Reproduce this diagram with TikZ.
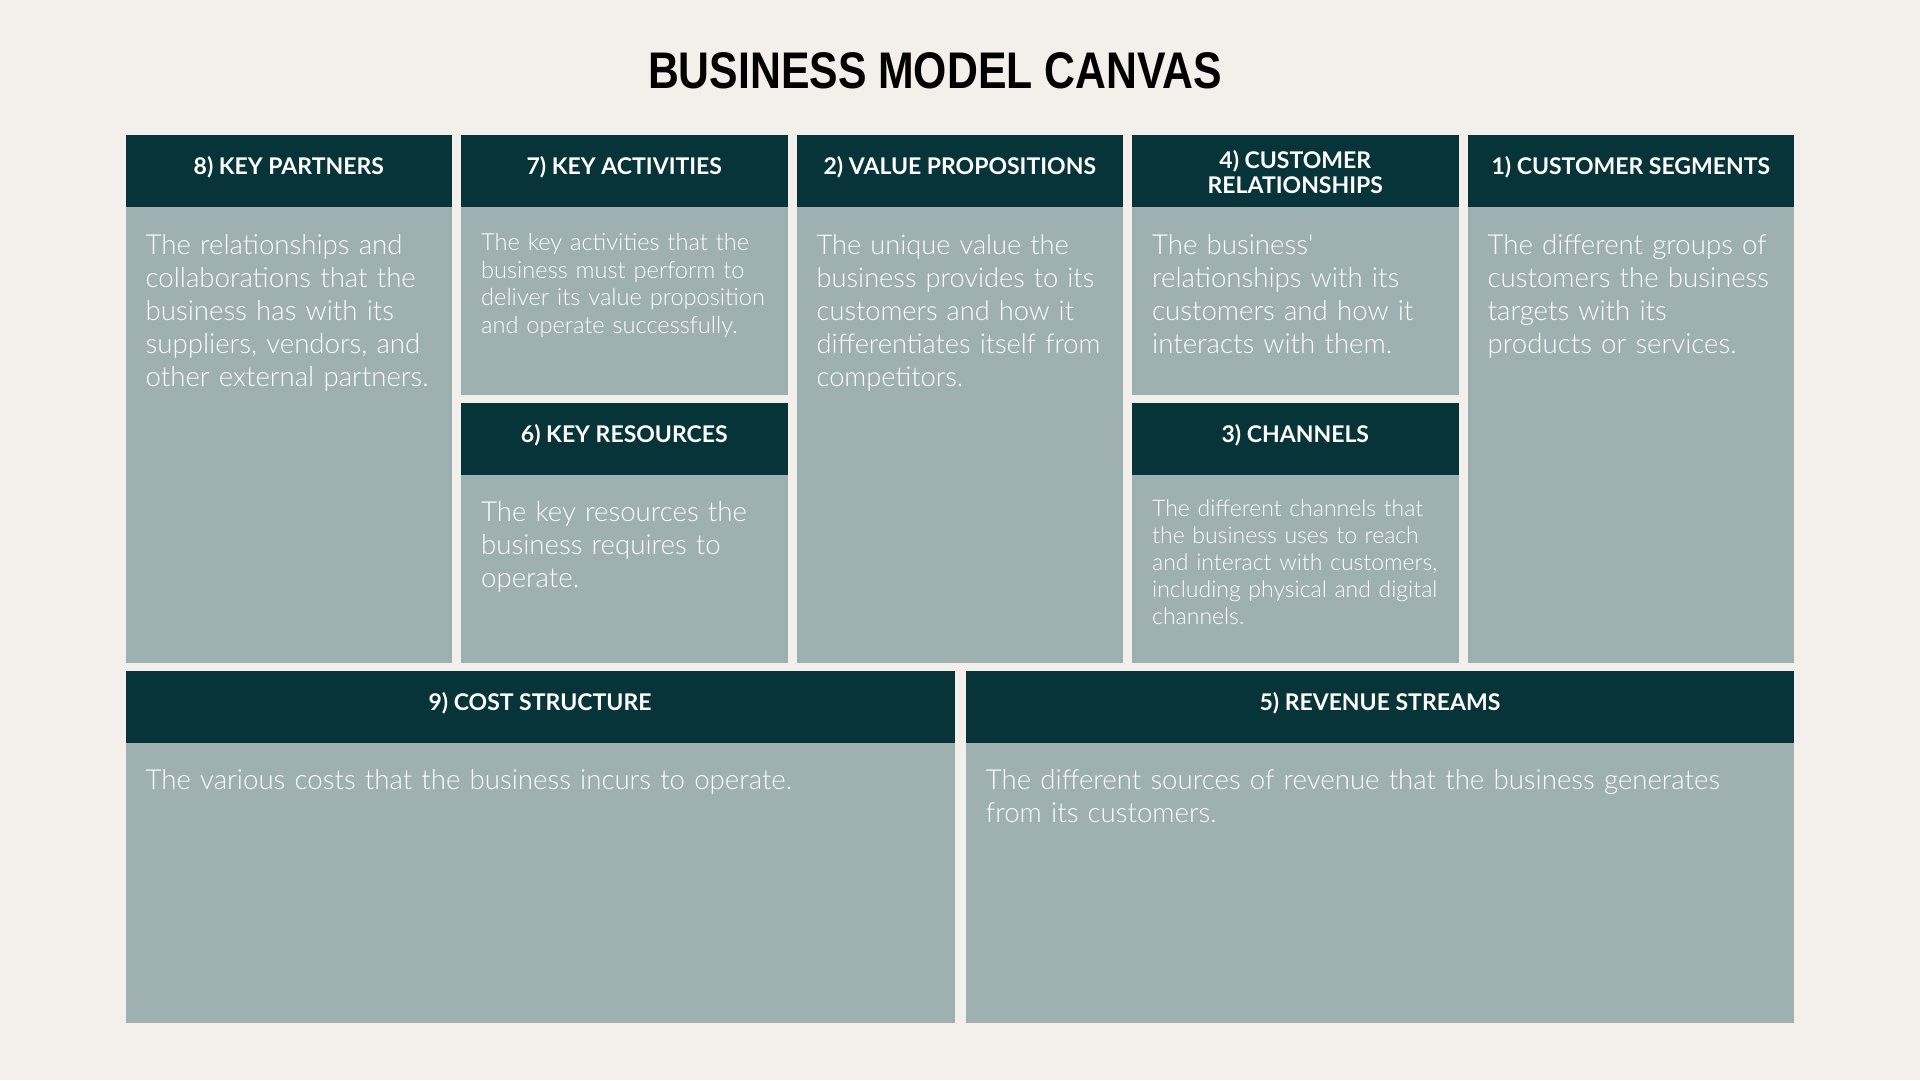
\documentclass[tikz,border=0pt]{standalone}
\usepackage{fontspec}
\usepackage{graphicx}
\setmainfont{Lato}
\newfontfamily\lightfont{Lato Light}
\newfontfamily\titlefont{Liberation Sans}
\definecolor{bg}{RGB}{243,240,236}
\definecolor{hdr}{RGB}{7,52,57}
\definecolor{bodyc}{RGB}{159,176,176}
\begin{document}
\begin{tikzpicture}[x=1pt,y=-1pt,
  hdrbox/.style={fill=hdr},
  bodybox/.style={fill=bodyc},
  hdrtext/.style={anchor=base,inner sep=0pt,text=white,font=\bfseries\fontsize{23}{25}\selectfont},
  bigtext/.style={anchor=north west,inner sep=0pt,text=white,align=left,text width=318pt,
    font=\lightfont\fontsize{27.6}{33}\selectfont,execute at begin node={\rule{0pt}{24pt}}},
  smalltext/.style={anchor=north west,inner sep=0pt,text=white,align=left,text width=318pt,
    font=\lightfont\fontsize{23.3}{27.5}\selectfont,execute at begin node={\rule{0pt}{20pt}}}]
\fill[bg] (0,0) rectangle (1920,1080);
\useasboundingbox (0,0) rectangle (1920,1080);

% title
\node[anchor=base,inner sep=0pt,font=\titlefont\bfseries\fontsize{51.5}{55}\selectfont] (title) at (935,88) {\scalebox{0.83}[1]{BUSINESS MODEL CANVAS}};

% column 1: key partners
\fill[hdrbox] (125.5,135) rectangle (452.1,206.5);
\fill[bodybox] (125.5,206.5) rectangle (452.1,662.7);
% column 2: key activities / key resources
\fill[hdrbox] (461,135) rectangle (787.6,206.5);
\fill[bodybox] (461,206.5) rectangle (787.6,395);
\fill[hdrbox] (461,403) rectangle (787.6,475);
\fill[bodybox] (461,475) rectangle (787.6,662.7);
% column 3: value propositions
\fill[hdrbox] (796.5,135) rectangle (1123.1,206.5);
\fill[bodybox] (796.5,206.5) rectangle (1123.1,662.7);
% column 4: customer relationships / channels
\fill[hdrbox] (1132,135) rectangle (1458.6,206.5);
\fill[bodybox] (1132,206.5) rectangle (1458.6,395);
\fill[hdrbox] (1132,403) rectangle (1458.6,475);
\fill[bodybox] (1132,475) rectangle (1458.6,662.7);
% column 5: customer segments
\fill[hdrbox] (1467.5,135) rectangle (1794.1,206.5);
\fill[bodybox] (1467.5,206.5) rectangle (1794.1,662.7);
% bottom row
\fill[hdrbox] (125.5,671) rectangle (954.5,742.7);
\fill[bodybox] (125.5,742.7) rectangle (954.5,1023.3);
\fill[hdrbox] (965.7,671) rectangle (1794.1,742.7);
\fill[bodybox] (965.7,742.7) rectangle (1794.1,1023.3);

% headers
\node[hdrtext] (hkp) at (288.8,174) {8) KEY PARTNERS};
\node[hdrtext] (hka) at (624.3,174) {7) KEY ACTIVITIES};
\node[hdrtext] (hvp) at (959.8,174) {2) VALUE PROPOSITIONS};
\node[hdrtext,anchor=north,align=center,execute at begin node={\rule{0pt}{17pt}}] (hcr) at (1295.3,150) {4) CUSTOMER\\RELATIONSHIPS};
\node[hdrtext] (hcs) at (1630.8,174) {1) CUSTOMER SEGMENTS};
\node[hdrtext] (hkr) at (624.3,442) {6) KEY RESOURCES};
\node[hdrtext] (hch) at (1295.3,442) {3) CHANNELS};
\node[hdrtext] (hcost) at (540,710) {9) COST STRUCTURE};
\node[hdrtext] (hrev) at (1379.9,710) {5) REVENUE STREAMS};

% body texts
\node[bigtext] (tkp) at (145.5,230) {The relationships and\\collaborations that the\\business has with its\\suppliers, vendors, and\\other external partners.};
\node[smalltext,font=\lightfont\fontsize{23.6}{27.8}\selectfont] (tka) at (481,230) {The key activities that the\\business must perform to\\deliver its value proposition\\and operate successfully.};
\node[bigtext] (tkr) at (481,497) {The key resources the\\business requires to\\operate.};
\node[bigtext,font=\lightfont\fontsize{27.2}{33}\selectfont] (tvp) at (816.5,230) {The unique value the\\business provides to its\\customers and how it\\differentiates itself from\\competitors.};
\node[bigtext] (tcr) at (1152,230) {The business'\\relationships with its\\customers and how it\\interacts with them.};
\node[smalltext,font=\lightfont\fontsize{23}{27}\selectfont] (tch) at (1152,496) {The different channels that\\the business uses to reach\\and interact with customers,\\including physical and digital\\channels.};
\node[bigtext] (tcs) at (1487.5,230) {The different groups of\\customers the business\\targets with its\\products or services.};
\node[bigtext,text width=800pt] (tcost) at (145.5,765) {The various costs that the business incurs to operate.};
\node[bigtext,text width=800pt] (trev) at (985.7,765) {The different sources of revenue that the business generates\\from its customers.};
\end{tikzpicture}
\end{document}
